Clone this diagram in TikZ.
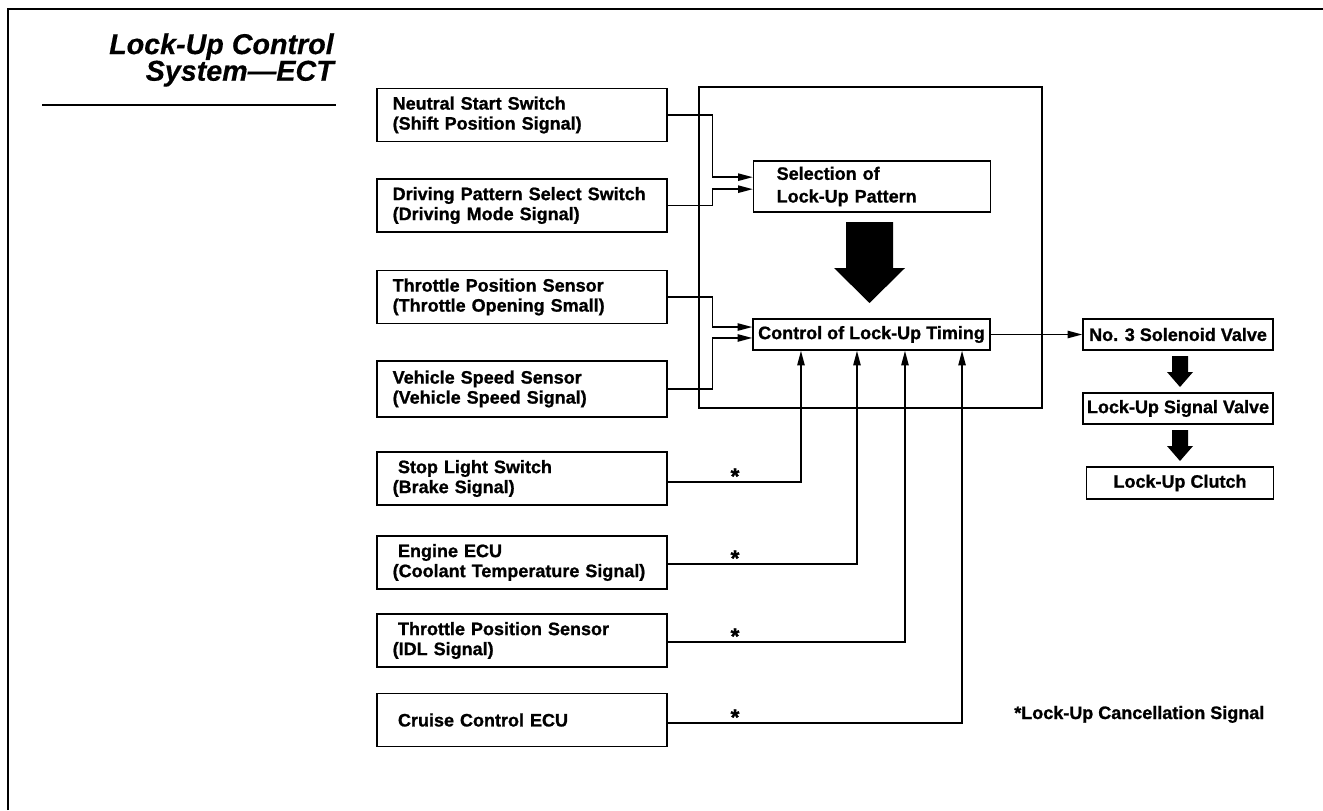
\documentclass[tikz,border=0pt]{standalone}
\usepackage{fontspec}
\setmainfont{Liberation Sans}
\newfontfamily\hvb{Liberation Sans Bold}[FakeBold=1.1]
\newfontfamily\hvbi{Liberation Sans Bold Italic}[FakeBold=0.4]
\usetikzlibrary{arrows.meta,calc}
\begin{document}
\begin{tikzpicture}[x=0.75pt,y=-0.75pt,
  txt/.style={font=\fontsize{13.5}{15}\selectfont\hvb},
  box/.style={draw, line width=1.1pt, inner sep=0pt, txt},
  lbox/.style={box, minimum width=217.5pt, minimum height=39.75pt, text width=194pt, align=left},
  selbox/.style={box, minimum width=177.75pt, minimum height=38.25pt, text width=143pt, align=left},
  ctlbox/.style={box, minimum width=177.75pt, minimum height=23.25pt, align=center},
  outbox/.style={box, minimum width=142.5pt, minimum height=23pt, align=center},
  frame/.style={draw, line width=1.1pt, inner sep=0pt},
  arr/.style={line width=1.1pt, -{Triangle[length=11pt,width=5.5pt]}},
  star/.style={font=\fontsize{17}{17}\selectfont\hvb, inner sep=0pt, anchor=base}]
\useasboundingbox (0,0) rectangle (1323,810);
% page frame
\draw[line width=2pt] (8,810) -- (8,9) -- (1323,9);
% title
\node[anchor=north east, inner sep=0pt, align=right,
      font=\fontsize{21.5}{20}\selectfont\hvbi] (title) at (334,33)
  {Lock-Up Control\\System—ECT};
\draw[line width=0.9pt] (42,105) -- (336,105);
% ECU frame
\node[frame, minimum width=257.25pt, minimum height=240.75pt] (ecu) at (870.5,247.5) {};
% left inputs
\node[lbox] (neutral)  at (522,115)   {Neutral Start Switch\\(Shift Position Signal)};
\node[lbox] (driving)  at (522,205.5) {Driving Pattern Select Switch\\(Driving Mode Signal)};
\node[lbox] (throttle) at (522,297)   {Throttle Position Sensor\\(Throttle Opening Small)};
\node[lbox, minimum height=42pt] (vehicle) at (522,389) {Vehicle Speed Sensor\\(Vehicle Speed Signal)};
\node[lbox] (stop)     at (522,478.5) {\hspace{4pt}Stop Light Switch\\(Brake Signal)};
\node[lbox] (engine)   at (522,562.5) {\hspace{4pt}Engine ECU\\(Coolant Temperature Signal)};
\node[lbox] (idl)      at (522,640.5) {\hspace{4pt}Throttle Position Sensor\\(IDL Signal)};
\node[lbox] (cruise)   at (522,720) {\hspace{4pt}Cruise Control ECU};
% inner blocks
\node[selbox] (sel) at (872,186.5) {Selection of\\[2pt]Lock-Up Pattern};
\node[ctlbox] (ctl) at (871.5,334.5) {Control of Lock-Up Timing};
% outputs
\node[outbox] (sol) at (1178,334.5) {No. 3 Solenoid Valve};
\node[outbox, minimum height=23.25pt] (sig) at (1178,408.5) {Lock-Up Signal Valve};
\node[outbox, minimum width=140pt, minimum height=24pt] (clutch) at (1180,483) {Lock-Up Clutch};
% block arrows
\fill (846,222) -- (893,222) -- (893,268) -- (905,268) -- (869.5,303) -- (834,268) -- (846,268) -- cycle;
\fill (1172,356) -- (1188,356) -- (1188,372) -- (1193,372) -- (1180,387) -- (1167,372) -- (1172,372) -- cycle;
\fill (1172,430) -- (1188,430) -- (1188,446) -- (1193,446) -- (1180,461) -- (1167,446) -- (1172,446) -- cycle;
% connectors to selection / control
\draw[arr] (neutral.east)  -- ++(45,0) |- ([yshift=7pt]sel.west);
\draw[arr] (driving.east)  -- ++(45,0) |- ([yshift=-2pt]sel.west);
\draw[arr] (throttle.east) -- ++(45,0) |- ([yshift=5.6pt]ctl.west);
\draw[arr] (vehicle.east)  -- ++(45,0) |- ([yshift=-2.6pt]ctl.west);
\draw[arr] ([yshift=-2.6pt]stop.east)   -| ([xshift=-52.9pt]ctl.south);
\draw[arr] ([yshift=-1.2pt]engine.east) -| ([xshift=-10.9pt]ctl.south);
\draw[arr] ([yshift=-1.2pt]idl.east)    -| ([xshift=25.1pt]ctl.south);
\draw[arr] ([yshift=-2.3pt]cruise.east) -| ([xshift=67.9pt]ctl.south);
\draw[arr] (ctl.east) -- (sol.west);
% stars
\node[star] (s1) at (735,484) {*};
\node[star] (s2) at (735,566) {*};
\node[star] (s3) at (735,644) {*};
\node[star] (s4) at (735,725) {*};
\node[txt, anchor=base west, inner sep=0pt] (note) at (1014,719) {*Lock-Up Cancellation Signal};
\end{tikzpicture}
\end{document}
